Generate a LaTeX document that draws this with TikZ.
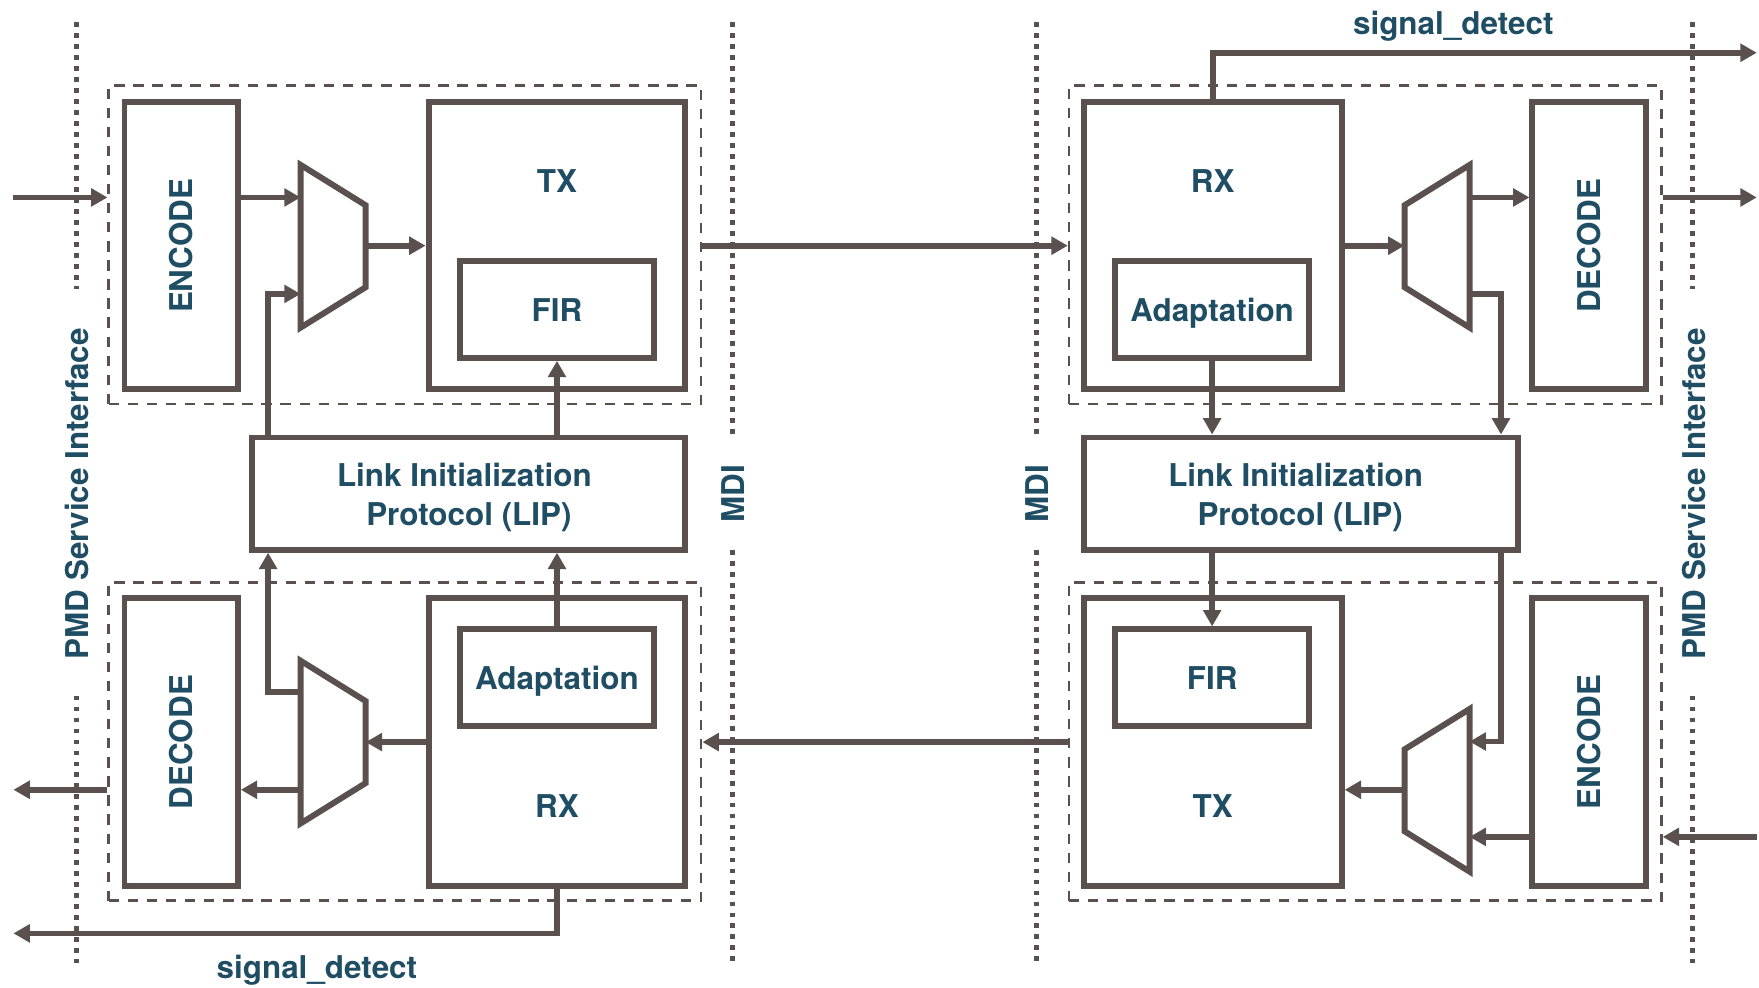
\documentclass[tikz,border=0pt]{standalone}
\usepackage{fontspec}
\setmainfont{TeX Gyre Heros}
\usetikzlibrary{arrows.meta,calc}
\definecolor{ln}{RGB}{90,80,78}
\definecolor{tx}{RGB}{31,77,100}
\begin{document}
\begin{tikzpicture}[x=0.5pt,y=-0.5pt,
  box/.style={draw=ln, line width=2.65pt, inner sep=0pt},
  dbox/.style={draw=ln, line width=1.2pt, dash pattern=on 4.6pt off 3.9pt, inner sep=0pt},
  lbl/.style={text=tx, font=\fontsize{14}{17}\selectfont\bfseries, inner sep=0pt},
  arr/.style={draw=ln, line width=2.55pt, -{Triangle[length=7.3pt,width=7.8pt]}},
  dotl/.style={draw=ln, line width=2.2pt, dash pattern=on 2.2pt off 2.7pt},
  mux/.style={draw=ln, line width=2.65pt, line join=miter}]
\useasboundingbox (0,0) rectangle (1568,880);

% dotted interface lines
\draw[dotl] (68,20) -- (68,258);   \draw[dotl] (68,620) -- (68,858);
\draw[dotl] (653,20) -- (653,388); \draw[dotl] (653,490) -- (653,858);
\draw[dotl] (924,20) -- (924,388); \draw[dotl] (924,490) -- (924,858);
\draw[dotl] (1509,20) -- (1509,258); \draw[dotl] (1509,620) -- (1509,858);
\node[lbl, rotate=90] (pmdL) at (69,440) {PMD Service Interface};
\node[lbl, rotate=90] (pmdR) at (1510,440) {PMD Service Interface};
\node[lbl, rotate=90] (mdiL) at (653.5,440) {MDI};
\node[lbl, rotate=90] (mdiR) at (924.5,440) {MDI};

% dashed groups
\node[dbox, minimum width=264pt, minimum height=142pt] (d1) at (361,218) {};
\node[dbox, minimum width=264pt, minimum height=142pt] (d2) at (361,661) {};
\node[dbox, minimum width=264pt, minimum height=142pt] (d3) at (1217,218) {};
\node[dbox, minimum width=264pt, minimum height=142pt] (d4) at (1217,661) {};

% left top
\node[box, minimum width=50.5pt, minimum height=128pt] (enc1) at (161.5,219) {};
\node[lbl, rotate=90] (enc1t) at (enc1) {ENCODE};
\node[box, minimum width=114.5pt, minimum height=128pt] (tx1) at (496.5,219) {};
\node[lbl, anchor=base] (tx1t) at (496.5,172) {TX};
\node[box, minimum width=86.5pt, minimum height=43pt] (fir1) at (496.5,276) {};
\node[lbl, anchor=base] (fir1t) at (496.5,287) {FIR};
\draw[mux] (268,147) -- (326,183) -- (326,256) -- (268,292) -- cycle;
\coordinate (m1a) at (268,176);
\coordinate (m1b) at (268,262);
\coordinate (m1o) at (326,219);

% left LIP
\node[box, minimum width=193pt, minimum height=50pt] (lip1) at (418,440) {};
\node[lbl, anchor=base] (lip1a) at (414,434) {Link Initialization};
\node[lbl, anchor=base] (lip1b) at (418,468) {Protocol (LIP)};

% left bottom
\node[box, minimum width=50.5pt, minimum height=128.5pt] (dec2) at (161.5,661.5) {};
\node[lbl, rotate=90] (dec2t) at (dec2) {DECODE};
\node[box, minimum width=114.5pt, minimum height=128.5pt] (rx2) at (496.5,661.5) {};
\node[lbl, anchor=base] (rx2t) at (496.5,729) {RX};
\node[box, minimum width=86.5pt, minimum height=43pt] (ad2) at (496.5,604) {};
\node[lbl, anchor=base] (ad2t) at (496.5,615) {Adaptation};
\draw[mux] (268,589) -- (326,625) -- (326,698) -- (268,734) -- cycle;
\coordinate (m2a) at (268,617);
\coordinate (m2b) at (268,704);
\coordinate (m2i) at (326,661.5);

% right top
\node[box, minimum width=115pt, minimum height=128pt] (rx3) at (1081,219) {};
\node[lbl, anchor=base] (rx3t) at (1081,172) {RX};
\node[box, minimum width=86.5pt, minimum height=43pt] (ad3) at (1080.5,276) {};
\node[lbl, anchor=base] (ad3t) at (1080.5,287) {Adaptation};
\node[box, minimum width=50.5pt, minimum height=128pt] (dec3) at (1416.5,219) {};
\node[lbl, rotate=90] (dec3t) at (dec3) {DECODE};
\draw[mux] (1310,147) -- (1252,183) -- (1252,256) -- (1310,292) -- cycle;
\coordinate (m3i) at (1252,219);
\coordinate (m3a) at (1310,176);
\coordinate (m3b) at (1310,262);

% right LIP
\node[box, minimum width=193.5pt, minimum height=50pt] (lip3) at (1159.5,440) {};
\node[lbl, anchor=base] (lip3a) at (1155,434) {Link Initialization};
\node[lbl, anchor=base] (lip3b) at (1159,468) {Protocol (LIP)};

% right bottom
\node[box, minimum width=115pt, minimum height=128.5pt] (tx4) at (1081,661.5) {};
\node[lbl, anchor=base] (tx4t) at (1081,729) {TX};
\node[box, minimum width=86.5pt, minimum height=43pt] (fir4) at (1080.5,604) {};
\node[lbl, anchor=base] (fir4t) at (1080.5,615) {FIR};
\node[box, minimum width=50.5pt, minimum height=128.5pt] (enc4) at (1416.5,661.5) {};
\node[lbl, rotate=90] (enc4t) at (enc4) {ENCODE};
\draw[mux] (1310,632) -- (1252,668) -- (1252,741) -- (1310,777) -- cycle;
\coordinate (m4a) at (1310,661);
\coordinate (m4b) at (1310,746);
\coordinate (m4o) at (1252,704);

% free ends and junctions
\coordinate (inL) at (12,176);
\coordinate (outL) at (12,704);
\coordinate (sdL) at (12,832);
\coordinate (outR) at (1566,176);
\coordinate (inR) at (1566,746);
\coordinate (sdR) at (1566,47);
\coordinate (j1) at (239,262);
\coordinate (j2) at (239,617);
\coordinate (j3) at (1338,262);

% connectors left top
\draw[arr] (inL) -- (inL -| d1.west);
\draw[arr] (enc1.east |- m1a) -- (m1a);
\draw[arr] (m1o) -- (tx1.west |- m1o);
\draw[arr] (lip1.north -| j1) -- (j1) -- (m1b);
\draw[arr] (lip1.north -| fir1.south) -- (fir1.south);
\draw[arr] (d1.east |- tx1.east) -- (d3.west |- tx1.east);

% connectors left bottom
\draw[arr] (rx2.west |- m2i) -- (m2i);
\draw[arr] (m2b) -- (dec2.east |- m2b);
\draw[arr] (d2.west |- m2b) -- (outL);
\draw[arr] (m2a) -- (j2) -- (j2 |- lip1.south);
\draw[arr] (ad2.north) -- (ad2.north |- lip1.south);
\draw[arr] (rx2.south) -- (rx2.south |- sdL) -- (sdL);
\draw[arr] (d4.west |- rx2.east) -- (d2.east |- rx2.east);
\node[lbl, anchor=base] (sdLt) at (282.5,872) {signal\_detect};

% connectors right top
\draw[arr] (rx3.east |- m3i) -- (m3i);
\draw[arr] (m3a) -- (dec3.west |- m3a);
\draw[arr] (d3.east |- m3a) -- (outR);
\draw[arr] (m3b) -- (j3) -- (j3 |- lip3.north);
\draw[arr] (ad3.south) -- (ad3.south |- lip3.north);
\draw[arr] (rx3.north) -- (rx3.north |- sdR) -- (sdR);
\node[lbl, anchor=base] (sdRt) at (1295.5,30.5) {signal\_detect};

% connectors right bottom
\draw[arr] (lip3.south -| fir4.north) -- (fir4.north);
\draw[arr] (lip3.south -| j3) -- (j3 |- m4a) -- (m4a);
\draw[arr] (m4o) -- (tx4.east |- m4o);
\draw[arr] (enc4.west |- m4b) -- (m4b);
\draw[arr] (inR) -- (inR -| d4.east);
\end{tikzpicture}
\end{document}
